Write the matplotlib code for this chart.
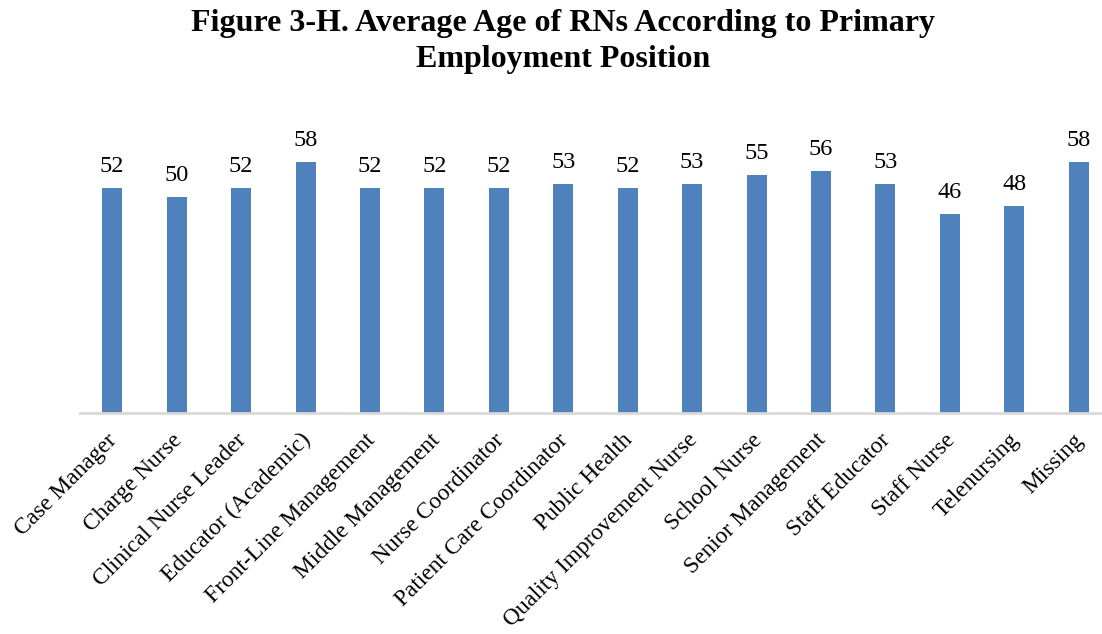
import matplotlib.pyplot as plt
import matplotlib.transforms as mtransforms
import numpy as np

# Average age by primary employment position
positions = [
    "Case Manager",
    "Charge Nurse",
    "Clinical Nurse Leader",
    "Educator (Academic)",
    "Front-Line Management",
    "Middle Management",
    "Nurse Coordinator",
    "Patient Care Coordinator",
    "Public Health",
    "Quality Improvement Nurse",
    "School Nurse",
    "Senior Management",
    "Staff Educator",
    "Staff Nurse",
    "Telenursing",
    "Missing",
]
avg_age = [52, 50, 52, 58, 52, 52, 52, 53, 52, 53, 55, 56, 53, 46, 48, 58]

plt.rcParams["font.family"] = ["Liberation Serif", "DejaVu Serif"]

W, H = 1102, 634
fig = plt.figure(figsize=(W / 100, H / 100), dpi=100)
fig.patch.set_facecolor("white")

# axes placed in pixel units: left 80, baseline at 413, right runs past the edge
left, right = 80, 1111
bottom_px = 413
ymax = 70
px_per_unit = 4.32
top_px = bottom_px - ymax * px_per_unit
ax = fig.add_axes([left / W, (H - bottom_px) / H, (right - left) / W, (bottom_px - top_px) / H])

x = np.arange(len(positions))
bars = ax.bar(x, avg_age, width=0.31, color="#4F81BD", zorder=2)

ax.set_xlim(-0.5, len(positions) - 0.5)
ax.set_ylim(0, ymax)

# value labels above each bar
for xi, v in zip(x, avg_age):
    ax.annotate(f"{v}", (xi, v), xytext=(0, 8), textcoords="offset points",
                ha="center", va="bottom", fontsize=17.5, color="black")

# rotated category labels
ax.set_xticks([])
offset = mtransforms.ScaledTranslation(2 / 100, -24 / 100, fig.dpi_scale_trans)
trans = ax.get_xaxis_transform() + offset
for xi, name in zip(x, positions):
    ax.text(xi, 0, name, transform=trans, rotation=45, rotation_mode="anchor",
            ha="right", va="center", fontsize=16.8, color="black")

# only a light baseline remains
for side in ["top", "right", "left"]:
    ax.spines[side].set_visible(False)
ax.spines["bottom"].set_color("#D9D9D9")
ax.spines["bottom"].set_linewidth(2)
ax.set_yticks([])

title_lines = ["Figure 3-H. Average Age of RNs According to Primary", "Employment Position"]
for ty, line in zip([23, 60], title_lines):
    fig.text(563 / W, 1 - ty / H, line, ha="center", va="center",
             fontsize=23, fontweight="bold")

fig.savefig("out.png", dpi=100)
